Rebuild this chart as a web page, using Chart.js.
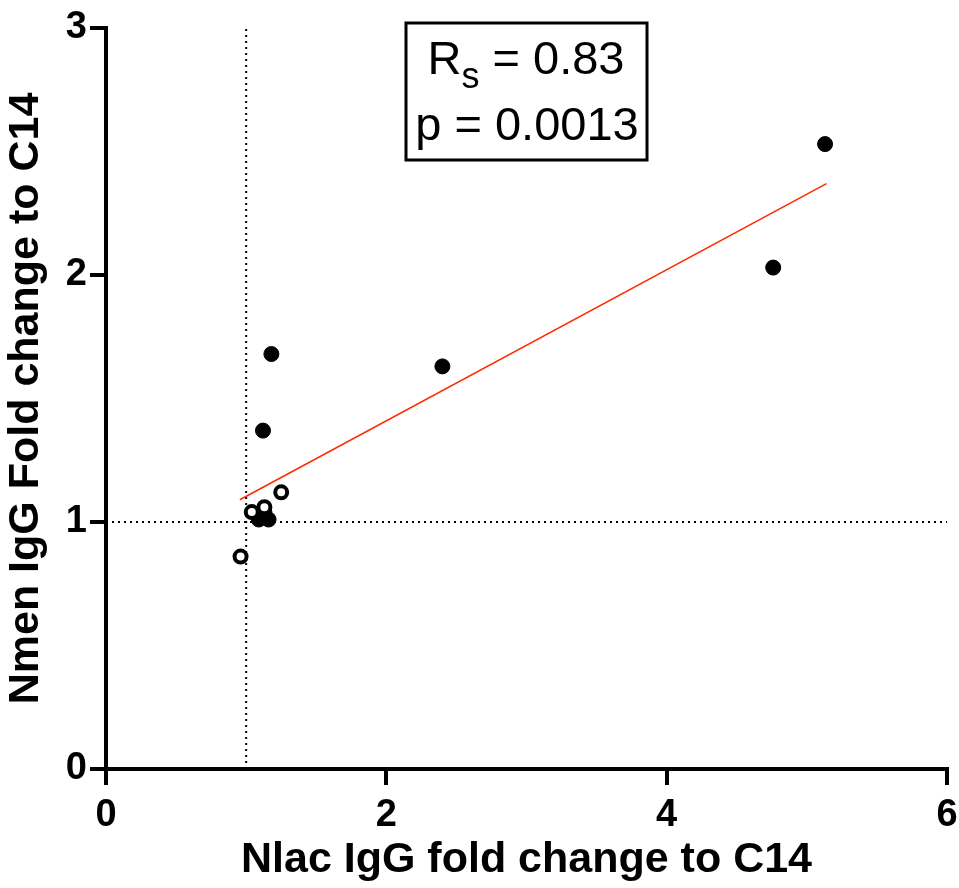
<!DOCTYPE html>
<html>
<head>
<meta charset="utf-8">
<script src="https://cdn.jsdelivr.net/npm/chart.js@4"></script>
<style>
  body { margin: 0; background: #fff; }
  #wrap { width: 959px; height: 888px; }
</style>
</head>
<body>
<div id="wrap"><canvas id="scatter" width="959" height="888"></canvas></div>
<script>
// filled dots
const filledX = [5.13, 4.76, 2.40, 1.18, 1.12, 1.09, 1.16, 1.13];
const filledY = [2.53, 2.03, 1.63, 1.68, 1.37, 1.01, 1.01, 1.04];
// open dots
const openX = [0.96, 1.04, 1.13, 1.25];
const openY = [0.86, 1.04, 1.06, 1.12];
// regression line ends
const fitX = [0.955, 5.14];
const fitY = [1.09, 2.37];
// dotted reference at 1
const refX = 1;
const refY = 1;
const xTicks = [0, 2, 4, 6];
const yTicks = [0, 1, 2, 3];

const font = '"Liberation Sans", Arial, sans-serif';

const pts = (xs, ys) => xs.map((x, i) => ({ x: x, y: ys[i] }));

const statBox = {
  id: 'statBox',
  afterDraw(chart) {
    const ctx = chart.ctx;
    ctx.save();
    ctx.strokeStyle = '#000';
    ctx.lineWidth = 3;
    ctx.strokeRect(406, 23, 241, 137);
    ctx.fillStyle = '#000';
    ctx.textBaseline = 'alphabetic';
    ctx.textAlign = 'left';
    const big = '47px ' + font, small = '36px ' + font;
    const r = 'R', rest = ' = 0.83';
    ctx.font = big;
    const wR = ctx.measureText(r).width;
    const wRest = ctx.measureText(rest).width;
    ctx.font = small;
    const wS = ctx.measureText('s').width;
    let x0 = 526 - (wR + wS + wRest) / 2;
    ctx.font = big;
    ctx.fillText(r, x0, 74);
    ctx.font = small;
    ctx.fillText('s', x0 + wR, 88);
    ctx.font = big;
    ctx.fillText(rest, x0 + wR + wS, 74);
    ctx.textAlign = 'center';
    ctx.fillText('p = 0.0013', 527, 140);
    ctx.restore();
  }
};

const ctx = document.getElementById('scatter').getContext('2d');
const chart = new Chart(ctx, {
  type: 'scatter',
  data: {
    datasets: [
      {
        label: 'open',
        data: pts(openX, openY),
        pointRadius: 6,
        pointBorderWidth: 4,
        pointBackgroundColor: '#fff',
        pointBorderColor: '#000',
        order: 0
      },
      {
        label: 'filled',
        data: pts(filledX, filledY),
        pointRadius: 7.5,
        pointBorderWidth: 1,
        pointBackgroundColor: '#000',
        pointBorderColor: '#000',
        order: 1
      },
      {
        label: 'fit',
        type: 'line',
        data: pts(fitX, fitY),
        borderColor: '#ff2a00',
        borderWidth: 1.5,
        pointRadius: 0,
        order: 2
      },
      {
        label: 'refV',
        type: 'line',
        data: [{ x: refX, y: 0 }, { x: refX, y: 3 }],
        borderColor: '#000',
        borderWidth: 2,
        borderDash: [2, 4],
        pointRadius: 0,
        order: 3
      },
      {
        label: 'refH',
        type: 'line',
        data: [{ x: 0, y: refY }, { x: 6, y: refY }],
        borderColor: '#000',
        borderWidth: 2,
        borderDash: [2, 4],
        pointRadius: 0,
        order: 3
      }
    ]
  },
  options: {
    responsive: false,
    animation: false,
    layout: { padding: { top: 28, right: 12, left: 0, bottom: 0 } },
    plugins: { legend: { display: false }, tooltip: { enabled: false } },
    scales: {
      x: {
        type: 'linear',
        min: 0, max: 6,
        afterBuildTicks: s => { s.ticks = xTicks.map(v => ({ value: v })); },
        afterFit: s => { s.height = 119; s.paddingLeft = 0; s.paddingRight = 0; },
        border: { color: '#000', width: 4 },
        grid: { drawOnChartArea: false, drawTicks: true, tickLength: 16, color: '#000', lineWidth: 4 },
        ticks: { color: '#000', font: { family: font, size: 38, weight: 'bold' }, padding: 8, maxRotation: 0 },
        title: {
          display: true,
          text: 'Nlac IgG fold change to C14',
          color: '#000',
          font: { family: font, size: 43, weight: 'bold' },
          padding: { top: 0, bottom: 2 }
        }
      },
      y: {
        type: 'linear',
        min: 0, max: 3,
        afterBuildTicks: s => { s.ticks = yTicks.map(v => ({ value: v })); },
        afterFit: s => { s.width = 106; s.paddingTop = 0; s.paddingBottom = 0; },
        border: { color: '#000', width: 4 },
        grid: { drawOnChartArea: false, drawTicks: true, tickLength: 16, color: '#000', lineWidth: 4 },
        ticks: { color: '#000', font: { family: font, size: 38, weight: 'bold' }, padding: 3 },
        title: {
          display: true,
          text: 'Nmen IgG Fold change to C14',
          color: '#000',
          font: { family: font, size: 43, weight: 'bold' },
          padding: { top: 0, bottom: 0 }
        }
      }
    }
  },
  plugins: [statBox]
});
</script>
</body>
</html>
